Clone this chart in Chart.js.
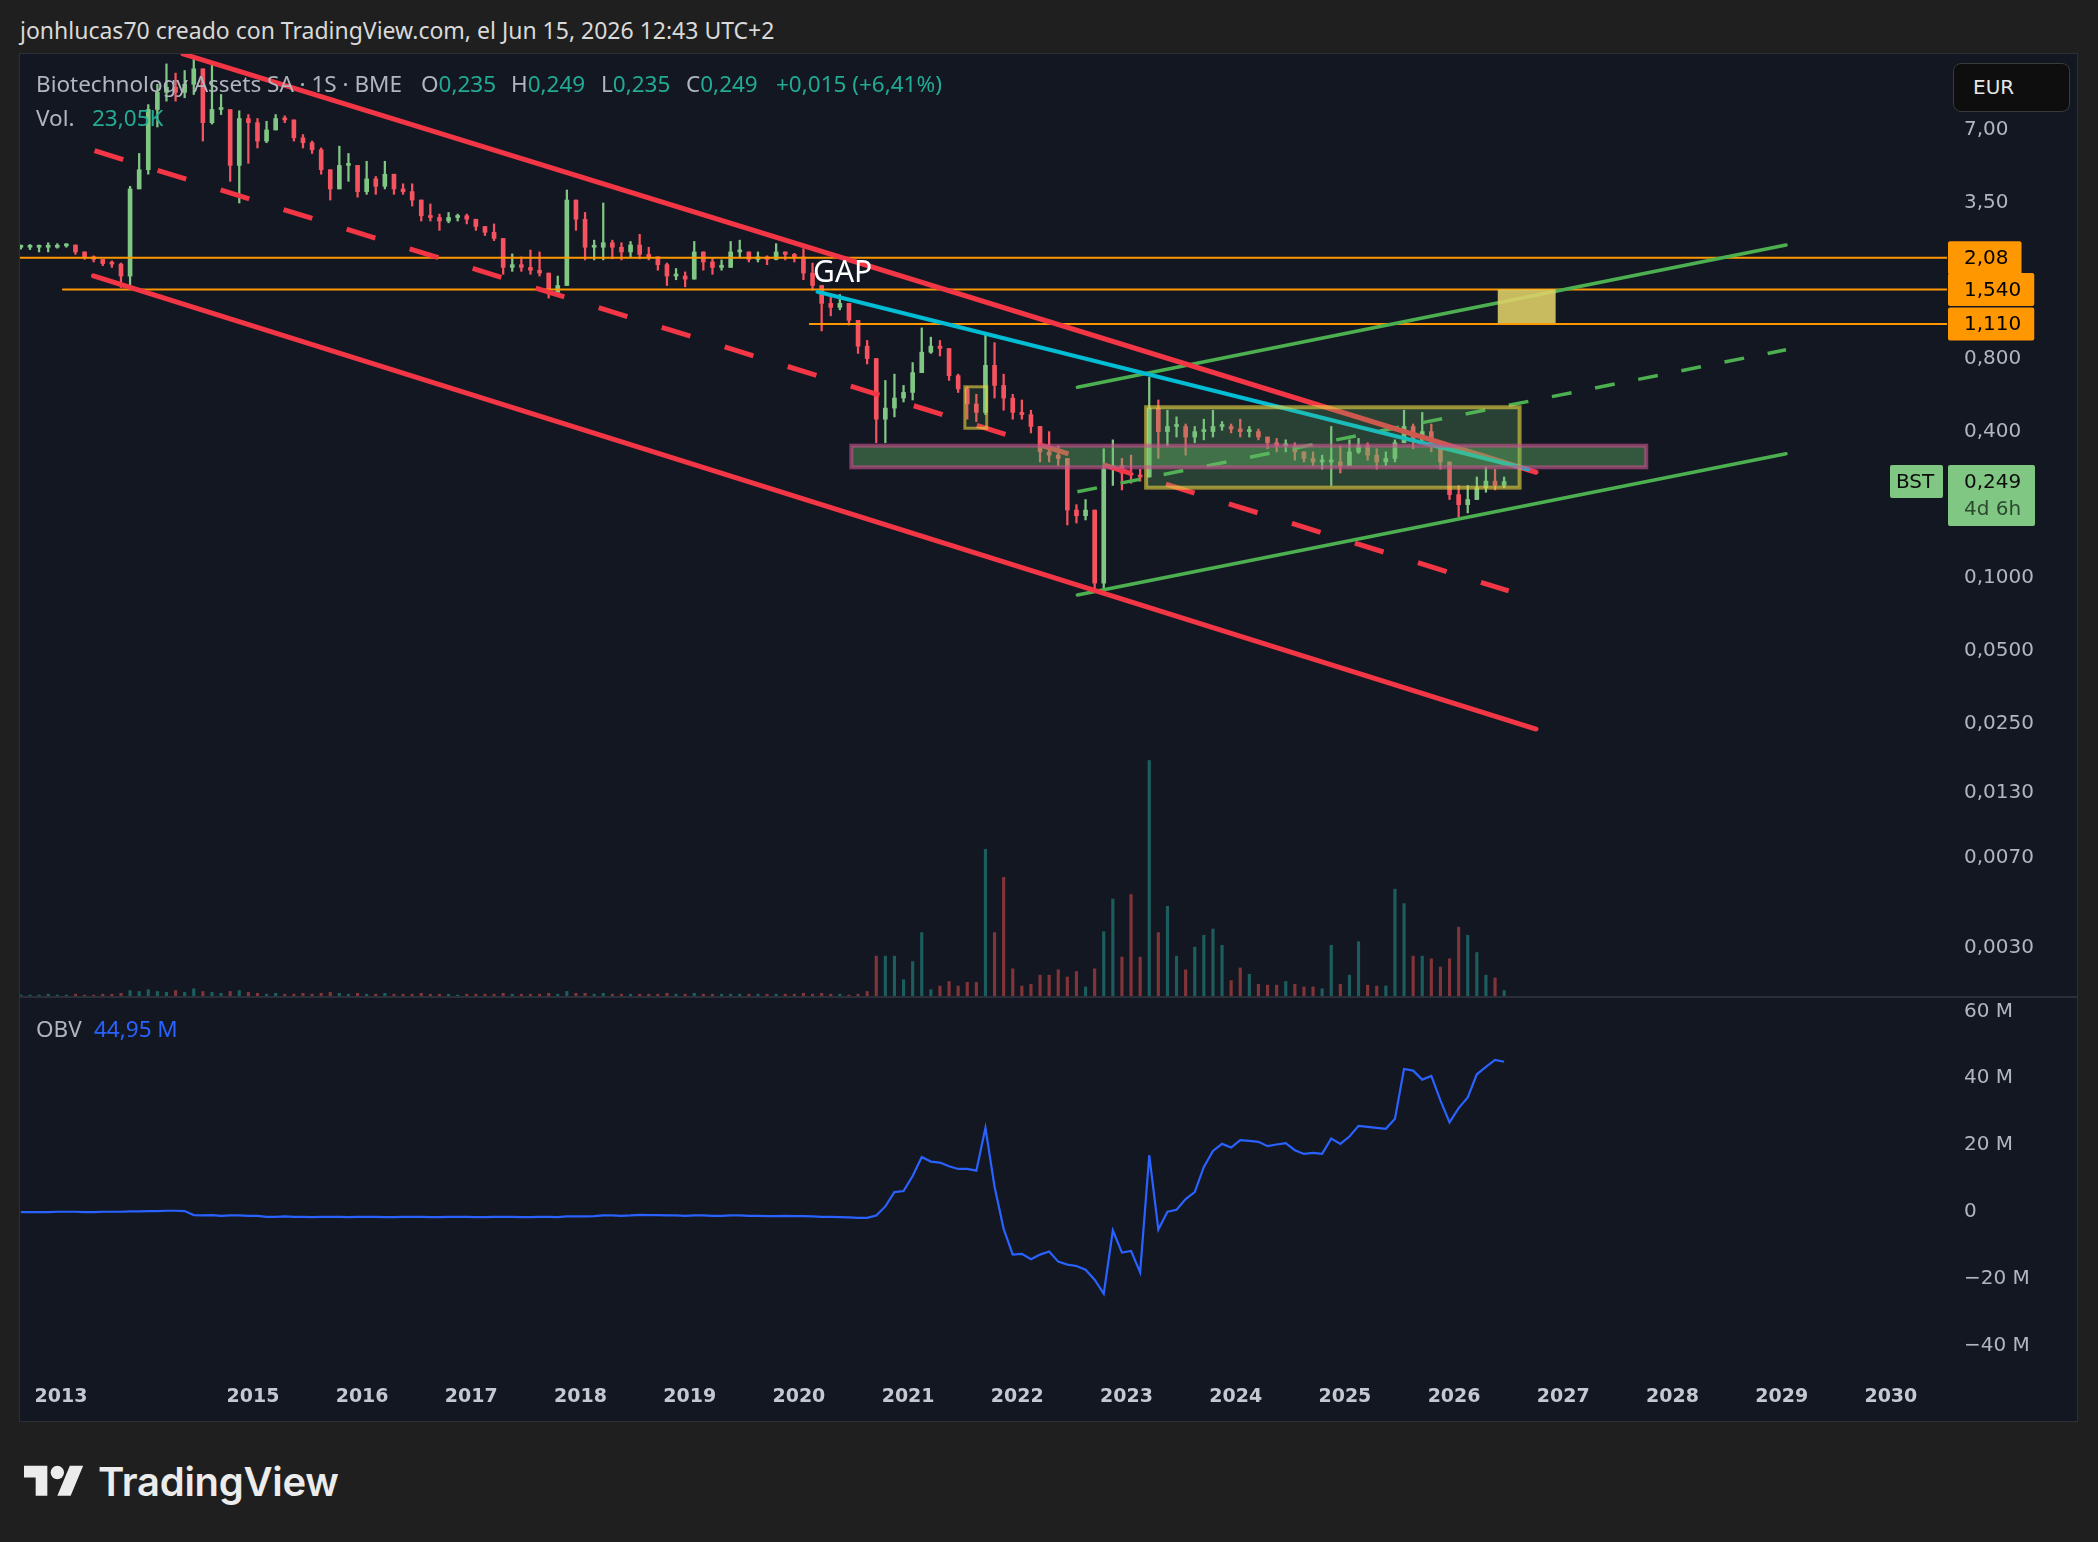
<!DOCTYPE html>
<html lang="es">
<head>
<meta charset="utf-8">
<title>BST semanal</title>
<script src="https://cdn.jsdelivr.net/npm/chart.js@4.4.1/dist/chart.umd.min.js"></script>
<style>
  html, body { margin: 0; padding: 0; }
  body { width: 2098px; height: 1542px; background: #1f1f1f; position: relative; overflow: hidden;
         font-family: 'Noto Sans', 'DejaVu Sans', sans-serif; }
  .abs { position: absolute; white-space: nowrap; }
  #hdr { left: 20px; top: 14px; font-size: 23px; line-height: 32px; color: #d9d9d9; }
  #panel { left: 19px; top: 53px; width: 2057px; height: 1367px; background: #131722; border: 1px solid #2e3038; }
  canvas { position: absolute; left: 20px; }
  #price { top: 54px; }
  #obv { top: 998px; }
  #sep { left: 20px; top: 996px; width: 2057px; height: 2px; background: #2a2e39; }
  .lg { font-size: 22.5px; line-height: 28px; color: #b2b5be; }
  .up { color: #22ab94; }
  .blue { color: #2962ff; }
  #eur { left: 1953px; top: 63px; width: 115px; height: 47px; background: #0e0e0e; border: 1px solid #3a3a3a;
         border-radius: 8px; color: #e6e6e6; font-size: 20px; line-height: 47px; font-family: 'DejaVu Sans', sans-serif; }
  #eur span { margin-left: 19px; }
  #logo { left: 24px; top: 1459px; }
  #logotext { left: 98px; top: 1458px; font-family: Inter, sans-serif; font-weight: 600; font-size: 40px;
              line-height: 48px; color: #ececec; letter-spacing: -0.3px; }
</style>
</head>
<body>
<div id="hdr" class="abs">jonhlucas70 creado con TradingView.com, el Jun 15, 2026 12:43 UTC+2</div>
<div id="panel" class="abs"></div>
<canvas id="price" width="2057" height="942"></canvas>
<div id="sep" class="abs"></div>
<canvas id="obv" width="2057" height="423"></canvas>

<div class="abs lg" style="left:36px;top:70px">Biotechnology Assets SA · 1S · BME</div>
<div class="abs lg" style="left:421px;top:70px">O<span class="up">0,235</span></div>
<div class="abs lg" style="left:511px;top:70px">H<span class="up">0,249</span></div>
<div class="abs lg" style="left:601px;top:70px">L<span class="up">0,235</span></div>
<div class="abs lg" style="left:686px;top:70px">C<span class="up">0,249</span></div>
<div class="abs lg up" style="left:776px;top:70px">+0,015 (+6,41%)</div>
<div class="abs lg" style="left:36px;top:104px">Vol.</div>
<div class="abs lg up" style="left:92px;top:104px">23,05K</div>
<div class="abs lg" style="left:36px;top:1015px">OBV</div>
<div class="abs lg blue" style="left:94px;top:1015px">44,95 M</div>

<div id="eur" class="abs"><span>EUR</span></div>

<svg id="logo" class="abs" width="60" height="47" viewBox="0 0 36 28" fill="#ececec">
  <path d="M14 22H7V11H0V4h14v18zM28 22h-8l7.5-18h8L28 22z"/><circle cx="20" cy="8" r="4"/>
</svg>
<div id="logotext" class="abs">TradingView</div>

<script>
// Weekly chart read as monthly candles, Nov 2012 .. Jun 2026 (one value per month)
const firstMonth = 2012 + 10 / 12;
const firstOpen = 2.3;

const highs = [
  2.35, 2.36,
  2.35, 2.4, 2.38, 2.38, 2.35, 2.2, 2.12, 2.05, 2.02, 1.98, 4.1, 5.6,
  8.9, 10.8, 13.1, 12.0, 12.3, 14.0, 12.5, 13.1, 9.8, 8.4, 8.4, 8.1,
  7.8, 7.6, 8.1, 8.0, 7.7, 6.7, 6.3, 5.9, 4.8, 6.0, 5.6, 5.0,
  5.2, 4.5, 5.2, 4.6, 4.2, 4.2, 3.6, 3.47, 3.15, 3.2, 3.15, 3.15,
  3.0, 2.8, 2.87, 2.5, 2.16, 2.1, 2.24, 2.2, 1.8, 1.75, 3.96, 3.6,
  3.2, 2.46, 3.5, 2.46, 2.4, 2.43, 2.6, 2.3, 2.1, 1.98, 1.88, 1.82,
  2.43, 2.2, 2.08, 2.04, 2.43, 2.46, 2.2, 2.2, 2.12, 2.38, 2.2, 2.17,
  2.27, 1.98, 1.6, 1.44, 1.47, 1.35, 1.15, 0.95, 0.8, 0.65, 0.69, 0.62,
  0.77, 1.07, 0.98, 0.95, 0.88, 0.69, 0.61, 0.57, 1.0, 0.93, 0.69, 0.57,
  0.54, 0.49, 0.42, 0.40, 0.35, 0.31, 0.2, 0.21, 0.19, 0.34, 0.37, 0.31,
  0.32, 0.28, 0.67, 0.54, 0.49, 0.46, 0.43, 0.42, 0.45, 0.49, 0.44, 0.43,
  0.45, 0.42, 0.41, 0.38, 0.375, 0.37, 0.36, 0.33, 0.33, 0.32, 0.42, 0.35,
  0.37, 0.375, 0.36, 0.34, 0.33, 0.37, 0.49, 0.43, 0.48, 0.43, 0.35, 0.3,
  0.24, 0.24, 0.26, 0.285, 0.28, 0.26
];
const lows = [
  2.26, 2.25,
  2.2, 2.2, 2.28, 2.3, 2.15, 2.05, 2.0, 1.93, 1.9, 1.57, 1.6, 4.0,
  4.6, 7.2, 9.2, 9.2, 9.5, 9.8, 6.3, 7.4, 8.1, 4.3, 3.5, 5.1,
  5.9, 6.2, 7.0, 7.5, 6.3, 5.9, 5.6, 4.6, 3.6, 4.0, 4.3, 3.7,
  3.8, 3.8, 4.0, 3.8, 3.8, 3.4, 2.95, 2.95, 2.7, 2.9, 2.95, 2.87,
  2.7, 2.57, 2.45, 1.78, 1.83, 1.83, 1.78, 1.75, 1.42, 1.5, 1.6, 2.7,
  2.04, 2.04, 2.04, 2.06, 2.04, 2.1, 2.06, 2.04, 1.85, 1.6, 1.69, 1.58,
  1.7, 1.85, 1.78, 1.85, 1.9, 2.08, 2.0, 2.0, 1.95, 2.04, 2.04, 2.0,
  1.69, 1.53, 1.04, 1.2, 1.27, 1.1, 0.84, 0.76, 0.36, 0.36, 0.46, 0.53,
  0.54, 0.7, 0.84, 0.82, 0.65, 0.58, 0.45, 0.44, 0.47, 0.55, 0.49, 0.45,
  0.45, 0.395, 0.30, 0.30, 0.29, 0.165, 0.168, 0.173, 0.089, 0.091, 0.24, 0.23,
  0.245, 0.25, 0.26, 0.31, 0.35, 0.38, 0.32, 0.36, 0.37, 0.38, 0.405, 0.395,
  0.38, 0.38, 0.37, 0.34, 0.33, 0.33, 0.305, 0.3, 0.29, 0.28, 0.24, 0.27,
  0.29, 0.325, 0.305, 0.28, 0.29, 0.3, 0.36, 0.34, 0.36, 0.33, 0.28, 0.21,
  0.178, 0.185, 0.21, 0.225, 0.23, 0.235
];
const closes = [
  2.3, 2.3,
  2.3, 2.3, 2.33, 2.35, 2.2, 2.1, 2.05, 1.97, 1.96, 1.75, 4.0, 4.8,
  8.5, 10.0, 10.5, 10.0, 10.8, 12.5, 7.5, 8.5, 8.5, 5.0, 7.8, 7.5,
  6.3, 7.0, 7.8, 7.7, 6.5, 6.2, 5.8, 4.8, 4.0, 5.0, 5.0, 3.9,
  4.4, 4.1, 4.6, 4.0, 3.9, 3.6, 3.1, 3.05, 2.95, 3.05, 3.1, 3.0,
  2.8, 2.65, 2.5, 1.9, 1.95, 1.9, 1.85, 1.8, 1.5, 1.6, 3.6, 3.0,
  2.3, 2.3, 2.4, 2.3, 2.2, 2.35, 2.15, 2.1, 1.95, 1.75, 1.75, 1.7,
  2.2, 2.0, 1.9, 1.9, 2.2, 2.2, 2.05, 2.1, 2.05, 2.2, 2.15, 2.1,
  1.8, 1.6, 1.35, 1.3, 1.35, 1.15, 0.9, 0.8, 0.45, 0.5, 0.55, 0.58,
  0.7, 0.85, 0.9, 0.88, 0.68, 0.6, 0.52, 0.48, 0.75, 0.62, 0.55, 0.48,
  0.47, 0.42, 0.33, 0.32, 0.31, 0.19, 0.18, 0.19, 0.095, 0.28, 0.29, 0.27,
  0.265, 0.26, 0.5, 0.4, 0.42, 0.42, 0.38, 0.4, 0.4, 0.42, 0.42, 0.41,
  0.4, 0.4, 0.38, 0.36, 0.35, 0.35, 0.33, 0.31, 0.3, 0.3, 0.3, 0.29,
  0.33, 0.35, 0.32, 0.3, 0.31, 0.36, 0.42, 0.37, 0.4, 0.35, 0.3, 0.22,
  0.2, 0.21, 0.235, 0.25, 0.24, 0.249
];
// millions of shares, biggest week of each month
const volumes = [
  0.1, 0.1,
  0.1, 0.2, 0.1, 0.1, 0.2, 0.1, 0.1, 0.2, 0.2, 0.3, 0.6, 0.5,
  0.7, 0.5, 0.4, 0.6, 0.4, 0.8, 0.5, 0.4, 0.3, 0.5, 0.6, 0.4,
  0.3, 0.2, 0.3, 0.2, 0.2, 0.3, 0.2, 0.3, 0.4, 0.3, 0.2, 0.3,
  0.2, 0.2, 0.3, 0.2, 0.2, 0.2, 0.3, 0.2, 0.2, 0.2, 0.1, 0.2,
  0.2, 0.2, 0.2, 0.3, 0.2, 0.2, 0.2, 0.2, 0.3, 0.2, 0.5, 0.3,
  0.3, 0.2, 0.3, 0.2, 0.2, 0.2, 0.2, 0.2, 0.2, 0.3, 0.2, 0.2,
  0.3, 0.2, 0.2, 0.2, 0.2, 0.2, 0.2, 0.2, 0.2, 0.2, 0.2, 0.2,
  0.3, 0.2, 0.3, 0.2, 0.2, 0.1, 0.2, 0.5, 4.4, 4.4, 4.4, 1.8,
  3.8, 7.0, 0.7, 1.1, 1.6, 1.1, 1.5, 1.5, 16.2, 7.0, 13.1, 3.0,
  1.1, 1.3, 2.3, 2.3, 2.9, 2.1, 2.7, 1.0, 3.0, 7.1, 10.7, 4.3,
  11.2, 4.3, 26.0, 7.0, 9.9, 4.4, 2.9, 5.4, 6.7, 7.4, 5.6, 1.7,
  3.1, 2.4, 1.3, 1.2, 1.2, 1.6, 1.3, 1.0, 1.0, 0.8, 5.6, 1.3,
  2.3, 6.0, 1.2, 1.1, 1.1, 11.8, 10.2, 4.4, 4.4, 4.1, 3.2, 4.1,
  7.6, 6.7, 4.8, 2.3, 2.0, 0.6
];
// On Balance Volume, millions
const obvValues = [
  0.0, 0.0,
  0.0, 0.0, 0.1, 0.1, 0.1, 0.0, 0.0, 0.1, 0.1, 0.1, 0.2, 0.2,
  0.3, 0.3, 0.4, 0.4, 0.3, -0.9, -1.0, -0.9, -1.1, -1.0, -1.0, -1.1,
  -1.1, -1.4, -1.4, -1.3, -1.4, -1.4, -1.5, -1.4, -1.4, -1.4, -1.5, -1.4,
  -1.4, -1.4, -1.5, -1.5, -1.4, -1.4, -1.4, -1.5, -1.5, -1.4, -1.4, -1.4,
  -1.5, -1.5, -1.4, -1.4, -1.4, -1.5, -1.5, -1.4, -1.4, -1.5, -1.3, -1.3,
  -1.3, -1.2, -1.0, -1.0, -1.1, -1.0, -0.8, -0.9, -0.9, -1.0, -1.0, -1.1,
  -1.0, -1.0, -1.1, -1.1, -1.0, -1.0, -1.1, -1.1, -1.2, -1.2, -1.1, -1.2,
  -1.2, -1.3, -1.4, -1.4, -1.5, -1.6, -1.7, -1.7, -1.0, 1.7, 6.0, 6.3,
  10.8, 16.5, 15.1, 14.8, 13.7, 12.9, 12.9, 12.4, 25.2, 7.6, -5.0, -12.7,
  -12.5, -14.1, -12.7, -11.8, -14.8, -15.7, -16.1, -17.2, -20.2, -24.4, -5.5, -12.1,
  -11.6, -18.0, 17.0, -5.2, 0.1, 0.7, 3.9, 6.0, 13.5, 18.3, 20.4, 19.3,
  21.5, 21.3, 21.0, 19.7, 20.2, 20.6, 18.5, 17.4, 17.7, 17.4, 22.0, 20.4,
  22.6, 25.8, 25.5, 25.2, 24.9, 27.9, 42.8, 42.3, 39.6, 40.7, 33.4, 26.8,
  31.1, 34.3, 41.2, 43.4, 45.5, 44.95
];

// axis ticks
const yearTicks = [2013, 2015, 2016, 2017, 2018, 2019, 2020, 2021, 2022, 2023, 2024, 2025, 2026, 2027, 2028, 2029, 2030];
const priceTicks = [7, 3.5, 0.8, 0.4, 0.2, 0.1, 0.05, 0.025, 0.013, 0.007, 0.003];
const priceTickLabels = ['7,00', '3,50', '0,800', '0,400', '0,2000', '0,1000', '0,0500', '0,0250', '0,0130', '0,0070', '0,0030'];
const obvTicks = [60, 40, 20, 0, -20, -40];
const obvTickLabels = ['60 M', '40 M', '20 M', '0', '\u221220 M', '\u221240 M'];

// drawings, in [year, price]
const upperChannel = [[2014.36, 14.4], [2026.75, 0.272]];
const middleChannel = [[2013.55, 5.75], [2026.50, 0.0882]];
const lowerChannel = [[2013.54, 1.755], [2026.75, 0.0238]];
const cyanTrend = [[2020.17, 1.508], [2026.68, 0.28]];
const greenUpper = [[2022.55, 0.609], [2029.04, 2.349]];
const greenMiddle = [[2022.55, 0.226], [2029.04, 0.87]];
const greenLower = [[2022.55, 0.0849], [2029.04, 0.324]];
const levels = [2.08, 1.54, 1.11];
const levelLabels = ['2,08', '1,540', '1,110'];
const levelStarts = [2012.8, 2013.26, 2020.10];
const supportZoneX = [2020.48, 2027.76], supportZoneY = [0.285, 0.350];
const rangeBoxX = [2023.18, 2026.60], rangeBoxY = [0.235, 0.504];
const smallBoxX = [2021.52, 2021.72], smallBoxY = [0.413, 0.612];
const targetBoxX = [2026.40, 2026.93], targetBoxY = [1.12, 1.54];
const gapNote = [2020.13, 1.80];
const lastPrice = 0.249;

const xMin = 2012.867, xMax = 2030.514;
const UP = '#81c784', DOWN = '#f7525f';

const months = highs.map((_, i) => firstMonth + (i + 0.5) / 12);
const opens = closes.map((c, i) => (i ? closes[i - 1] : firstOpen));
const isUp = closes.map((c, i) => c >= opens[i]);

Chart.defaults.font.family = "'DejaVu Sans', sans-serif";
Chart.defaults.color = '#b2b5be';

function fixedWidth(w) {
  return axis => { axis.width = w; axis.paddingTop = axis.paddingBottom = axis.paddingLeft = axis.paddingRight = 0; };
}
function seg(points, color, width, dash) {
  return {
    type: 'line', data: points.map(p => ({ x: p[0], y: p[1] })),
    borderColor: color, borderWidth: width, borderDash: dash || [],
    borderCapStyle: dash ? 'butt' : 'round', pointRadius: 0, order: 2
  };
}
function roundBox(ctx, x, y, w, h, r) {
  ctx.beginPath();
  ctx.roundRect(x, y, w, h, r);
  ctx.fill();
}

const zones = [
  { x: smallBoxX, y: smallBoxY, fill: 'rgba(102,187,106,0.12)', stroke: 'rgba(232,210,64,0.62)', lw: 3 },
  { x: rangeBoxX, y: rangeBoxY, fill: 'rgba(102,187,106,0.26)', stroke: 'rgba(232,210,64,0.62)', lw: 4 },
  { x: supportZoneX, y: supportZoneY, fill: 'rgba(102,187,106,0.40)', stroke: 'rgba(200,80,140,0.62)', lw: 4 },
  { x: targetBoxX, y: targetBoxY, fill: 'rgba(224,210,104,0.88)' }
];

const drawings = {
  id: 'drawings',
  afterDatasetsDraw(chart) {
    const { ctx, chartArea: a, scales: { x, y } } = chart;
    ctx.save();
    ctx.beginPath();
    ctx.rect(a.left, a.top, a.right - a.left, a.bottom - a.top);
    ctx.clip();
    zones.forEach(z => {
      const x0 = x.getPixelForValue(z.x[0]), x1 = x.getPixelForValue(z.x[1]);
      const y0 = y.getPixelForValue(z.y[1]), y1 = y.getPixelForValue(z.y[0]);
      ctx.fillStyle = z.fill;
      ctx.fillRect(x0, y0, x1 - x0, y1 - y0);
      if (z.stroke) {
        ctx.strokeStyle = z.stroke;
        ctx.lineWidth = z.lw;
        ctx.strokeRect(x0, y0, x1 - x0, y1 - y0);
      }
    });
    ctx.font = '30px "Noto Sans"';
    ctx.fillStyle = '#ffffff';
    ctx.textBaseline = 'middle';
    ctx.fillText('GAP', x.getPixelForValue(gapNote[0]), y.getPixelForValue(gapNote[1]));
    ctx.restore();
  },
  afterDraw(chart) {
    const { ctx, scales: { y } } = chart;
    const left = y.left + 1;
    ctx.save();
    ctx.font = '20px "DejaVu Sans"';
    ctx.textBaseline = 'middle';
    levels.forEach((v, i) => {
      const py = y.getPixelForValue(v);
      ctx.fillStyle = '#ff9800';
      roundBox(ctx, left, py - 16.5, ctx.measureText(levelLabels[i]).width + 29, 33, 2);
      ctx.fillStyle = '#000000';
      ctx.fillText(levelLabels[i], left + 16, py + 1);
    });
    const py = y.getPixelForValue(lastPrice);
    ctx.fillStyle = UP;
    roundBox(ctx, left, py - 16.5, 87, 61, 2);
    roundBox(ctx, left - 58, py - 16.5, 53, 33, 2);
    ctx.fillStyle = '#0c0c0c';
    ctx.fillText('0,249', left + 16, py + 1);
    ctx.fillText('BST', left - 52, py + 1);
    ctx.fillStyle = '#2c4a2e';
    ctx.fillText('4d 6h', left + 16, py + 28);
    ctx.restore();
  }
};

const priceChart = new Chart(document.getElementById('price'), {
  type: 'bar',
  data: {
    datasets: [
      seg(cyanTrend, '#00bcd4', 4),
      seg(upperChannel, '#f23645', 5),
      seg(lowerChannel, '#f23645', 5),
      seg(middleChannel, '#f23645', 5, [30, 36]),
      seg(greenUpper, '#4caf50', 3.5),
      seg(greenLower, '#4caf50', 3.5),
      seg(greenMiddle, '#4caf50', 3.5, [20, 24]),
      ...levels.map((v, i) => ({ ...seg([[levelStarts[i], v], [xMax, v]], '#ff9800', 2), order: 3 })),
      {
        label: 'cuerpo', data: months.map((m, i) => ({ x: m, y: [opens[i], closes[i]] })),
        backgroundColor: isUp.map(u => (u ? UP : DOWN)), barThickness: 4, minBarLength: 2,
        grouped: false, order: 5
      },
      {
        label: 'mecha', data: months.map((m, i) => ({ x: m, y: [lows[i], highs[i]] })),
        backgroundColor: isUp.map(u => (u ? UP : DOWN)), barThickness: 1.6,
        grouped: false, order: 6
      },
      {
        label: 'Vol.', yAxisID: 'yVol', data: months.map((m, i) => ({ x: m, y: volumes[i] })),
        backgroundColor: isUp.map(u => (u ? 'rgba(38,166,154,0.5)' : 'rgba(239,83,80,0.5)')),
        barThickness: 2.5, grouped: false, order: 10
      }
    ]
  },
  options: {
    responsive: false, animation: false, devicePixelRatio: 1,
    layout: { padding: 0 },
    plugins: { legend: { display: false }, tooltip: { enabled: false } },
    scales: {
      x: { type: 'linear', min: xMin, max: xMax, offset: false, display: false },
      y: {
        type: 'logarithmic', position: 'right', min: 0.00189, max: 14.39,
        grid: { display: false, drawTicks: false }, border: { display: false },
        afterBuildTicks: axis => { axis.ticks = priceTicks.map(v => ({ value: v })); },
        afterFit: fixedWidth(130),
        ticks: { autoSkip: false, padding: 17, color: '#b2b5be', font: { size: 20 },
                 callback: (v, i) => priceTickLabels[i] }
      },
      yVol: { type: 'linear', position: 'right', min: 0, max: 104, display: false }
    }
  },
  plugins: [drawings]
});

const obvChart = new Chart(document.getElementById('obv'), {
  type: 'line',
  data: {
    datasets: [{
      label: 'OBV', data: months.map((m, i) => ({ x: m, y: obvValues[i] })),
      borderColor: '#2962ff', borderWidth: 2.2, pointRadius: 0, tension: 0
    }]
  },
  options: {
    responsive: false, animation: false, devicePixelRatio: 1,
    layout: { padding: 0 },
    plugins: { legend: { display: false }, tooltip: { enabled: false } },
    scales: {
      x: {
        type: 'linear', min: xMin, max: xMax, offset: false,
        grid: { display: false, drawTicks: false }, border: { display: false },
        afterBuildTicks: axis => { axis.ticks = [...yearTicks, xMax].map(v => ({ value: v })); },
        afterFit: axis => { axis.height = 53; axis.paddingLeft = axis.paddingRight = 0; },
        ticks: { autoSkip: false, maxRotation: 0, align: 'inner', padding: 18, color: '#c5c8d0',
                 font: { size: 19, weight: 'bold' },
                 callback: (v, i) => (i < yearTicks.length ? String(yearTicks[i]) : '') }
      },
      y: {
        type: 'linear', position: 'right', min: -46.6, max: 64.0,
        grid: { display: false, drawTicks: false }, border: { display: false },
        afterBuildTicks: axis => { axis.ticks = obvTicks.map(v => ({ value: v })); },
        afterFit: fixedWidth(130),
        ticks: { autoSkip: false, padding: 17, color: '#b2b5be', font: { size: 20 },
                 callback: (v, i) => obvTickLabels[i] }
      }
    }
  }
});
</script>
</body>
</html>
